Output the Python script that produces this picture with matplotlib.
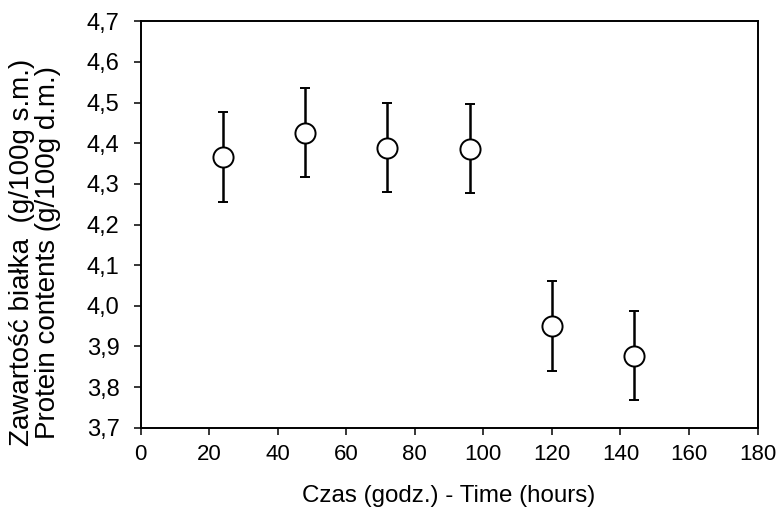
import matplotlib
matplotlib.use('Agg')
import matplotlib.pyplot as plt
from matplotlib.ticker import FuncFormatter

plt.rcParams['font.family'] = ['Liberation Sans', 'DejaVu Sans']

# dane
czas = [24, 48, 72, 96, 120, 144]
bialko = [4.366, 4.426, 4.389, 4.387, 3.950, 3.877]
blad = [0.111, 0.110, 0.110, 0.110, 0.110, 0.109]

fig = plt.figure(figsize=(7.81, 5.09), dpi=100)
ax = fig.add_axes([140.5 / 781, 1 - 427.7 / 509, (757.5 - 140.5) / 781, (427.7 - 21.3) / 509])

ax.errorbar(czas, bialko, yerr=blad, fmt='o', color='black', ecolor='black',
            elinewidth=1.8, capsize=3.3, capthick=1.8,
            markersize=14.5, markerfacecolor='white', markeredgecolor='black',
            markeredgewidth=1.4, zorder=3)

ax.set_xlim(0, 180)
ax.set_ylim(3.7, 4.7)
ax.set_xticks(range(0, 181, 20))
ax.set_yticks([3.7 + 0.1 * i for i in range(11)])
ax.yaxis.set_major_formatter(FuncFormatter(lambda v, p: f'{v:.1f}'.replace('.', ',')))

for s in ax.spines.values():
    s.set_linewidth(1.4)
ax.tick_params(direction='out', length=5, width=1.1)
ax.tick_params(axis='y', labelsize=17, pad=10)
ax.tick_params(axis='x', labelsize=16, pad=7)

ax.set_xlabel('Czas (godz.) - Time (hours)', fontsize=17.4, labelpad=14)
fig.text(35.5 / 781, 1 - 252.5 / 509,
         'Zawartość białka  (g/100g s.m.)\nProtein contents (g/100g d.m.)',
         rotation=90, ha='center', va='center', fontsize=20, linespacing=1.0)

fig.savefig('out.png', dpi=100)
